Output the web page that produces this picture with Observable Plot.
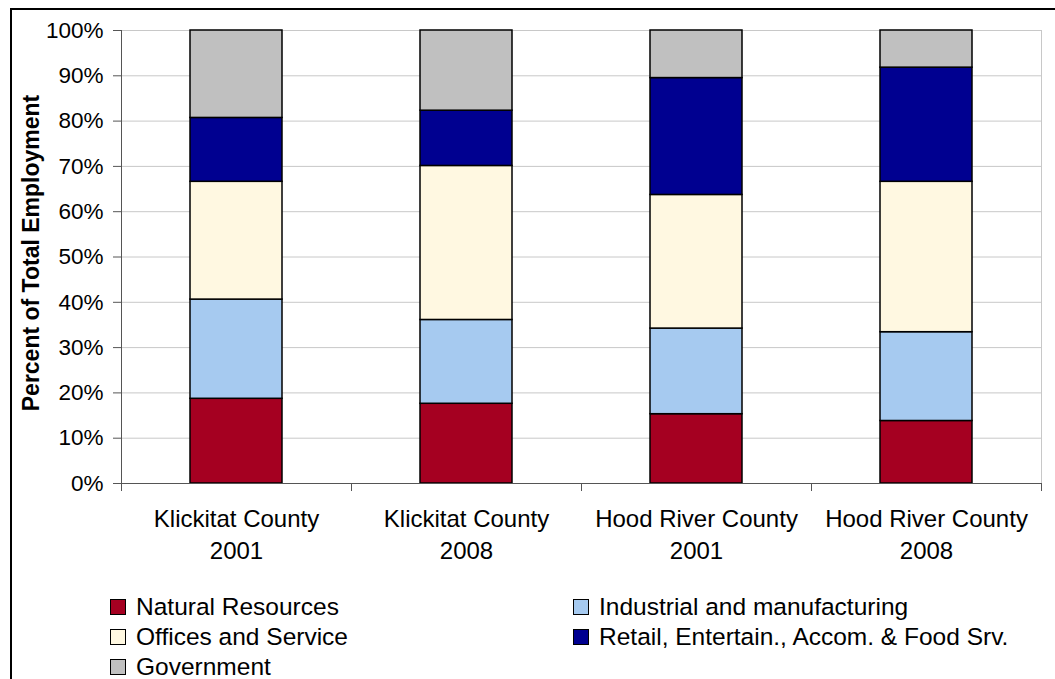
<!DOCTYPE html>
<html>
<head>
<meta charset="utf-8">
<script src="https://cdn.jsdelivr.net/npm/d3@7"></script>
<script src="https://cdn.jsdelivr.net/npm/@observablehq/plot@0.6"></script>
<style>
  html, body { margin: 0; padding: 0; width: 1055px; height: 679px; overflow: hidden; background: #fff; }
  body { position: relative; font-family: "Liberation Sans", Arial, sans-serif; }
  #chart { position: absolute; left: 0; top: 0; }
  #frame { position: absolute; left: 10px; top: 8px; width: 1200px; height: 800px; border: 2px solid #000; pointer-events: none; }
  #legend { position: absolute; left: 0; top: 592px; width: 1055px; }
  .item { position: absolute; height: 30px; line-height: 30px; font-size: 24.5px; color: #000; white-space: nowrap; }
  .sw { position: absolute; left: 0; top: 7px; width: 14px; height: 14px; border: 1px solid #000; }
  .lbl { position: absolute; left: 26px; top: 0; }
</style>
</head>
<body>
<div id="chart"></div>
<div id="legend"></div>
<div id="frame"></div>
<script>
// ---- Data (percent of total employment) ----
const categories = ["Klickitat County\n2001", "Klickitat County\n2008", "Hood River County\n2001", "Hood River County\n2008"];
const seriesNames = ["Natural Resources", "Industrial and manufacturing", "Offices and Service", "Retail, Entertain., Accom. & Food Srv.", "Government"];
const seriesColors = ["#A50021", "#A6CAF0", "#FFF8E1", "#000090", "#C0C0C0"];
const naturalResources = [18.7, 17.6, 15.3, 13.8];
const industrial       = [21.9, 18.5, 18.9, 19.6];
const offices          = [26.0, 34.0, 29.5, 33.2];
const retail           = [14.1, 12.2, 25.8, 25.2];
const government       = [19.3, 17.7, 10.5, 8.2];
const yTicks = [0, 10, 20, 30, 40, 50, 60, 70, 80, 90, 100];

const seriesValues = [naturalResources, industrial, offices, retail, government];
const rows = [];
seriesNames.forEach((s, i) => categories.forEach((c, j) => rows.push({category: c, series: s, value: seriesValues[i][j]})));

const W = 1055, H = 570, ML = 121, MR = 14, MT = 30, MB = 87;
const step = (W - ML - MR) / categories.length;

const chart = Plot.plot({
  width: W, height: H,
  marginLeft: ML, marginRight: MR, marginTop: MT, marginBottom: MB,
  style: {fontFamily: "'Liberation Sans', Arial, sans-serif", background: "transparent", color: "#000", overflow: "visible"},
  x: {domain: categories, paddingInner: 0.6, paddingOuter: 0.3, align: 0.5, axis: null, label: null},
  y: {domain: [0, 100], axis: null, label: null},
  color: {domain: seriesNames, range: seriesColors},
  marks: [
    Plot.frame({stroke: "#c8c8c8"}),
    Plot.gridY(yTicks, {stroke: "#c8c8c8", strokeOpacity: 1}),
    Plot.barY(rows, {x: "category", y: "value", fill: "series", stroke: "#000", strokeWidth: 1.5, inset: 0}),
    Plot.ruleY([0], {stroke: "#555"}),
    Plot.ruleX([categories[0]], {dx: -step / 2, stroke: "#555"}),
    Plot.axisY(yTicks, {tickSize: 8, tickPadding: 10, tickFormat: d => d + "%", fontSize: 22.5, stroke: "#555", fill: "#000", label: null}),
    Plot.axisX(categories, {tickSize: 8, tickFormat: () => "", dx: -step / 2, stroke: "#555", label: null}),
    Plot.axisX([categories[categories.length - 1]], {tickSize: 8, tickFormat: () => "", dx: step / 2, stroke: "#555", label: null}),
    Plot.axisX(categories, {tickSize: 0, tickPadding: 20, fontSize: 24, lineHeight: 1.35, fill: "#000", label: null}),
    Plot.text(["Percent of Total Employment"], {frameAnchor: "left", textAnchor: "middle", rotate: -90, dx: -90, dy: -4, fontSize: 23, fontWeight: "bold", fill: "#000"})
  ]
});
document.getElementById("chart").appendChild(chart);

// ---- Legend ----
const legendPos = [[110, 0], [573, 0], [110, 30], [573, 30], [110, 60]];
const legend = document.getElementById("legend");
seriesNames.forEach((s, i) => {
  const it = document.createElement("div");
  it.className = "item";
  it.style.left = legendPos[i][0] + "px";
  it.style.top = legendPos[i][1] + "px";
  const sw = document.createElement("div");
  sw.className = "sw";
  sw.style.background = seriesColors[i];
  const lb = document.createElement("span");
  lb.className = "lbl";
  lb.textContent = s;
  it.appendChild(sw); it.appendChild(lb);
  legend.appendChild(it);
});
</script>
</body>
</html>
